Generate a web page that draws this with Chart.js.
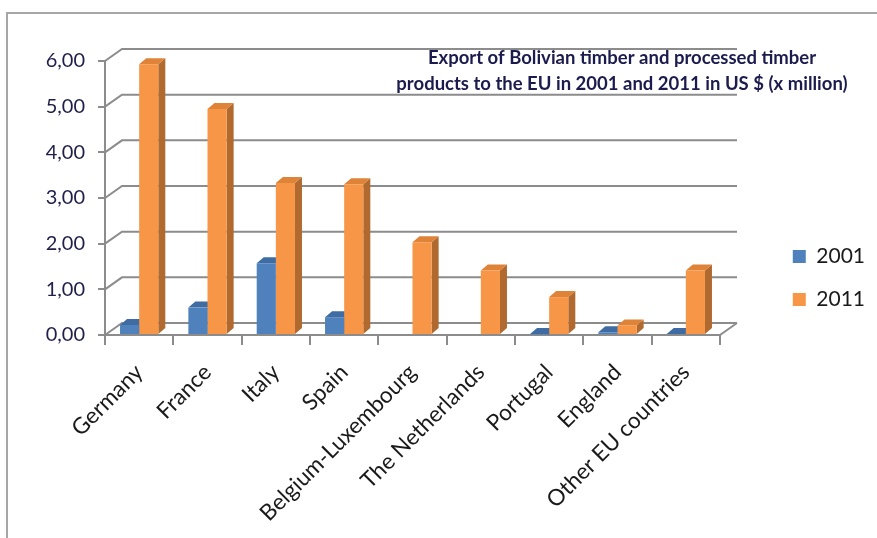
<!DOCTYPE html>
<html>
<head>
<meta charset="utf-8">
<script src="https://cdn.jsdelivr.net/npm/chart.js@4"></script>
<style>
  html, body { margin: 0; padding: 0; background: #ffffff; }
  #wrap { position: relative; width: 877px; height: 538px; }
</style>
</head>
<body>
<div id="wrap"><canvas id="c"></canvas></div>
<script>
// ---- data ----
const categories = ['Germany', 'France', 'Italy', 'Spain', 'Belgium-Luxembourg', 'The Netherlands', 'Portugal', 'England', 'Other EU countries'];
const seriesNames = ['2001', '2011'];
const values2001 = [0.22, 0.60, 1.57, 0.39, 0, 0, 0.01, 0.06, 0.02];
const values2011 = [5.93, 4.95, 3.33, 3.30, 2.03, 1.41, 0.83, 0.21, 1.41];
const yTickLabels = ['0,00', '1,00', '2,00', '3,00', '4,00', '5,00', '6,00'];
const titleLines = ['Export of Bolivian timber and processed timber', 'products to the EU in 2001 and 2011 in US $ (x million)'];

// ---- style ----
const FONT = 'Lato, "Open Sans", sans-serif';
const GRID = '#8c8c8c';
const DX = 17, DY = -12;      // depth of back wall
const BD = 7, BDY = -6;       // depth of bars
const PAD_T = 18, PAD_B = 0, PAD_R = 2, TOP_SPACE = 43, PLOT_BOTTOM = 335, PLOT_RIGHT = 720;
const faceColors = [
  { front: '#4F81BD', side: '#385D8A', top: '#3E6CA3' },
  { front: '#F79646', side: '#B0692F', top: '#DE8338' }
];

const depthPlugin = {
  id: 'depth',
  beforeDraw(chart) {
    const ctx = chart.ctx;
    ctx.save();
    ctx.strokeStyle = '#a6a6a6';
    ctx.lineWidth = 2;
    ctx.beginPath();
    ctx.moveTo(7, 538);
    ctx.lineTo(7, 13);
    ctx.lineTo(877, 13);
    ctx.stroke();
    ctx.restore();
  },
  beforeDatasetsDraw(chart) {
    const ctx = chart.ctx;
    const ys = chart.scales.y;
    const ca = chart.chartArea;
    ctx.save();
    ctx.strokeStyle = GRID;
    ctx.lineWidth = 2;
    ctx.beginPath();
    ys.ticks.forEach(t => {
      const y = ys.getPixelForValue(t.value);
      ctx.moveTo(ca.left, y);
      ctx.lineTo(ca.left + DX, y + DY);
      ctx.lineTo(ca.right + DX, y + DY);
    });
    ctx.moveTo(ca.right, ca.bottom);
    ctx.lineTo(ca.right + DX, ca.bottom + DY);
    ctx.stroke();
    ctx.restore();

    // side and top faces of all bars, blue first then orange
    ctx.save();
    chart.data.datasets.forEach((ds, di) => {
      const meta = chart.getDatasetMeta(di);
      const fc = faceColors[di];
      meta.data.forEach((bar, i) => {
        if (!ds.data[i]) return;
        const p = bar.getProps(['x', 'y', 'base', 'width'], true);
        const l = p.x - p.width / 2, r = p.x + p.width / 2;
        const top = Math.min(p.y, p.base), bot = Math.max(p.y, p.base);
        ctx.fillStyle = fc.side;
        ctx.beginPath();
        ctx.moveTo(r, top);
        ctx.lineTo(r + BD, top + BDY);
        ctx.lineTo(r + BD, bot + BDY);
        ctx.lineTo(r, bot);
        ctx.closePath();
        ctx.fill();
        ctx.fillStyle = fc.top;
        ctx.beginPath();
        ctx.moveTo(l, top);
        ctx.lineTo(l + BD, top + BDY);
        ctx.lineTo(r + BD, top + BDY);
        ctx.lineTo(r, top);
        ctx.closePath();
        ctx.fill();
      });
    });
    ctx.restore();
  },
  afterDraw(chart) {
    const ctx = chart.ctx;
    ctx.save();
    ctx.fillStyle = '#1b1b4e';
    ctx.font = 'bold 18.5px ' + FONT;
    ctx.textAlign = 'center';
    ctx.textBaseline = 'middle';
    titleLines.forEach((line, i) => ctx.fillText(line, 622, 58 + i * 26));
    ctx.restore();
  }
};

new Chart(document.getElementById('c'), {
  type: 'bar',
  data: {
    labels: categories,
    datasets: [
      { label: seriesNames[0], data: values2001, backgroundColor: faceColors[0].front, borderWidth: 0 },
      { label: seriesNames[1], data: values2011, backgroundColor: faceColors[1].front, borderWidth: 0 }
    ]
  },
  options: {
    responsive: true,
    maintainAspectRatio: false,
    animation: false,
    events: [],
    categoryPercentage: 0.56,
    barPercentage: 1.0,
    layout: { padding: { top: PAD_T, right: PAD_R, bottom: PAD_B, left: 0 } },
    plugins: {
      legend: {
        position: 'right',
        labels: {
          font: { family: FONT, size: 21 },
          color: '#1a1a1a',
          boxWidth: 13,
          boxHeight: 13,
          padding: 22
        }
      },
      tooltip: { enabled: false },
      title: { display: false }
    },
    scales: {
      x: {
        grid: { display: true, offset: true, drawOnChartArea: false, drawTicks: true, tickLength: 10, color: GRID, lineWidth: 2 },
        border: { display: true, color: GRID, width: 2 },
        ticks: {
          font: { family: FONT, size: 22.5 },
          color: '#1a1a1a',
          maxRotation: 45,
          minRotation: 45,
          autoSkip: false,
          labelOffset: 0,
          padding: 14
        },
        afterFit(s) { s.height = 538 - PAD_B - PLOT_BOTTOM; }
      },
      xTopSpace: {
        type: 'linear',
        position: 'top',
        display: true,
        grid: { display: false, drawTicks: false },
        border: { display: false },
        ticks: { display: false },
        afterFit(s) { s.height = TOP_SPACE; }
      },
      y: {
        min: 0,
        max: 6,
        ticks: {
          stepSize: 1,
          font: { family: FONT, size: 20 },
          color: '#1f1f4a',
          padding: 13,
          callback: (v) => yTickLabels[Math.round(v)]
        },
        grid: { display: true, drawOnChartArea: false, drawTicks: true, tickLength: 7, color: GRID, lineWidth: 2 },
        border: { display: true, color: GRID, width: 2 },
        afterFit(s) { s.width = 105; }
      },
      y2: {
        type: 'linear',
        position: 'right',
        display: true,
        grid: { display: false, drawTicks: false },
        border: { display: false },
        ticks: { display: false },
        afterFit(s) {
          const lw = s.chart.legend ? s.chart.legend.width : 92;
          s.width = Math.max(0, 877 - PAD_R - lw - PLOT_RIGHT);
        }
      }
    }
  },
  plugins: [depthPlugin]
});
</script>
</body>
</html>
